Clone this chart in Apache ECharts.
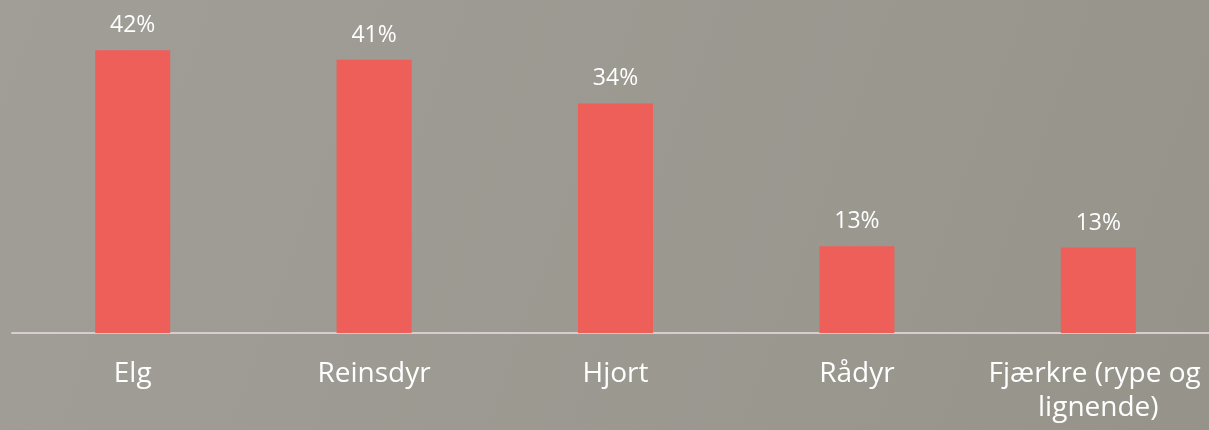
<!DOCTYPE html>
<html>
<head>
<meta charset="utf-8">
<script src="https://cdn.jsdelivr.net/npm/echarts@6/dist/echarts.min.js"></script>
<style>
  html, body { margin: 0; padding: 0; }
  #main { width: 1209px; height: 430px; }
</style>
</head>
<body>
<div id="main"></div>
<script>
// kategorier og andeler (prosent)
const categories = ['Elg', 'Reinsdyr', 'Hjort', 'Rådyr', 'Fjærkre (rype og lignende)'];
const shares = [42, 40.6, 34.1, 12.9, 12.7];

const chart = echarts.init(document.getElementById('main'));

chart.setOption({
  backgroundColor: new echarts.graphic.LinearGradient(0, 0, 1, 1, [
    { offset: 0, color: '#a09e97' },
    { offset: 1, color: '#96948a' }
  ]),
  grid: {
    left: 12,
    width: 1207,
    top: 30,
    bottom: 97,
    outerBoundsMode: 'none'
  },
  xAxis: {
    type: 'category',
    data: categories,
    axisLine: { lineStyle: { color: '#dacbce', width: 2 } },
    axisTick: { show: false },
    axisLabel: {
      color: '#ffffff',
      fontFamily: 'Open Sans',
      fontSize: 28,
      lineHeight: 34,
      margin: 24,
      width: 230,
      overflow: 'break',
      interval: 0
    }
  },
  yAxis: {
    type: 'value',
    min: 0,
    max: 45,
    show: false,
    splitLine: { show: false }
  },
  series: [
    {
      type: 'bar',
      data: shares,
      barWidth: 75,
      itemStyle: { color: '#ef5f5a' },
      label: {
        show: true,
        position: 'top',
        distance: 13,
        color: '#ffffff',
        fontFamily: 'Open Sans',
        fontSize: 23,
        formatter: p => Math.round(p.value) + '%'
      }
    }
  ]
});
</script>
</body>
</html>
